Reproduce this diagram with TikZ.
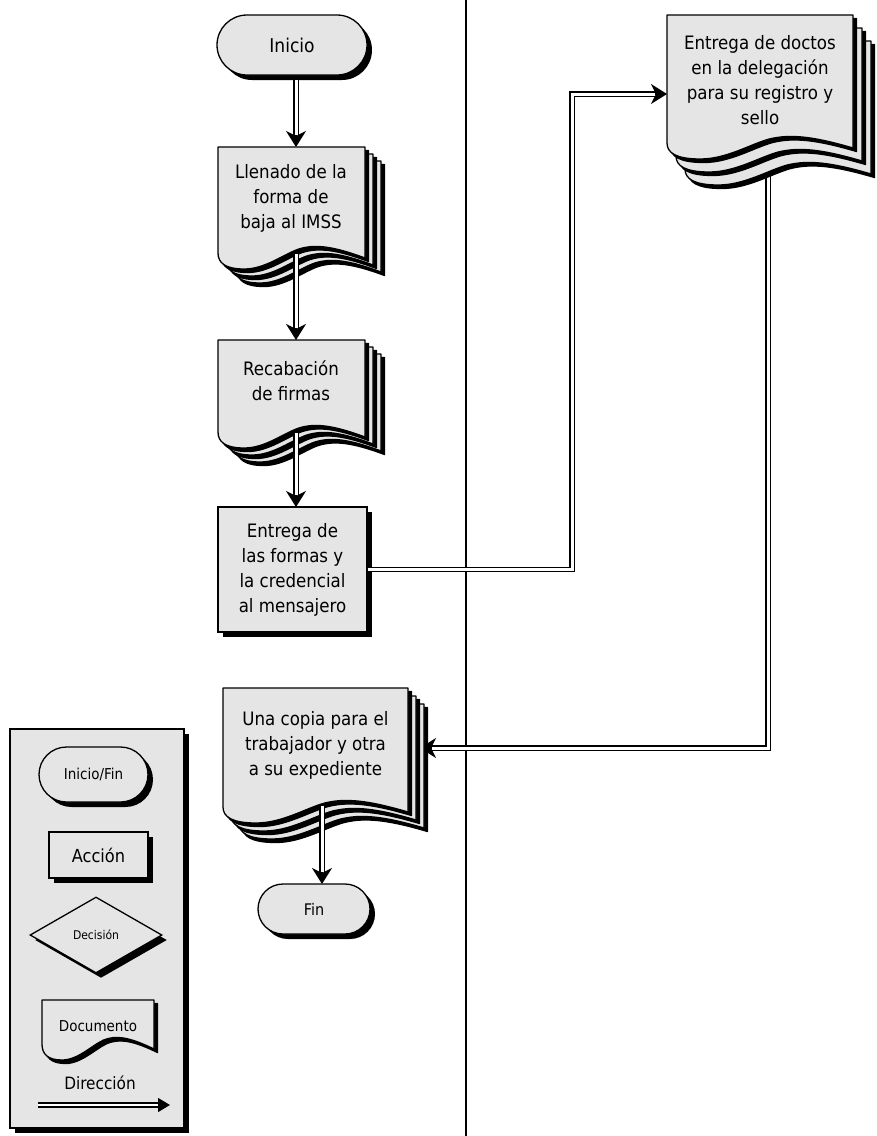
\documentclass[tikz,border=0pt]{standalone}
\usepackage{fontspec}
\setmainfont{DejaVu Sans Condensed}
\usetikzlibrary{arrows.meta,shapes.misc,shapes.geometric,shadows,calc}
\definecolor{docfill}{gray}{0.9}

% one sheet of a document shape: x, y(top), width, b(bottom reference), fill
\newcommand\sheet[5]{%
  \filldraw[sheetline, fill=#5] (#1,#2) -- ({#1+#3},#2) -- ({#1+#3},{#4-6})
    .. controls ({#1+0.78*#3},{#4-18}) and ({#1+0.66*#3},{#4-20}) .. ({#1+0.55*#3},{#4-15})
    .. controls ({#1+0.45*#3},{#4-10}) and ({#1+0.32*#3},{#4+5}) .. ({#1+0.18*#3},{#4+5})
    .. controls ({#1+0.05*#3},{#4+5}) and (#1,{#4-1}) .. (#1,{#4-11}) -- cycle;}
\newcommand\shsheet[5]{\sheet{#1+3.5}{#2+3.5}{#3}{#4+3.5}{black}\sheet{#1}{#2}{#3}{#4}{#5}}
\newcommand\multidoc[6]{%
  \shsheet{#1+2*#5}{#2+2*#6}{#3}{#4+2*#6}{docfill}%
  \shsheet{#1+#5}{#2+#6}{#3}{#4+#6}{docfill}%
  \shsheet{#1}{#2}{#3}{#4}{docfill}}

\begin{document}
\begin{tikzpicture}[x=1pt,y=-1pt,
  sheetline/.style={draw=black, line width=1.3pt, line join=round},
  shad/.style={drop shadow={shadow xshift=5pt, shadow yshift=-5pt, opacity=1, fill=black}},
  term/.style={rounded rectangle, draw, line width=1.3pt, fill=docfill, shad, inner sep=0pt},
  actbox/.style={rectangle, draw, line width=1.3pt, fill=docfill, shad, align=center, inner sep=0pt,
     font=\fontsize{18.5}{25}\selectfont},
  txt/.style={align=center, inner sep=0pt, font=\fontsize{18.5}{25}\selectfont},
  dbl/.style={double, double distance=3pt, line width=1.3pt, shorten >=6pt},
  tipend/.style={line width=1.4pt, -{Stealth[length=16pt,width=20pt,inset=5pt]}},
  legdbl/.style={double, double distance=2.5pt, line width=1.8pt, shorten >=6pt},
  legtip/.style={line width=1.2pt, -{Triangle[length=12pt,width=14pt]}}
]
\useasboundingbox (0,0) rectangle (877,1136);

% divider
\coordinate (dtop) at (466,0);
\coordinate (dbot) at (466,1136);
\draw[line width=1.2pt] (dtop) -- (dbot);

% connector drawn beneath documents
\coordinate (d-out) at (768,150);
\coordinate (k2) at (768,748);
\coordinate (u-in) at (420,748);
\draw[dbl] (d-out) -- (k2) -- (u-in);
\draw[tipend] ($(u-in)+(12,0)$) -- (u-in);

% Inicio
\node[term, minimum width=150, minimum height=60, font=\fontsize{19}{22}\selectfont] (inicio) at (292,45) {Inicio};

% Llenado
\multidoc{218}{147}{147}{264}{8}{7}
\node[txt] (llenado) at (291,198) {Llenado de la\\forma de\\baja al IMSS};

% Recabacion
\multidoc{218}{340}{147}{443}{8}{7}
\node[txt] (recab) at (291,381) {Recabación\\de firmas};

% Entrega
\node[actbox, minimum width=149, minimum height=125] (entrega) at (292.5,569.5)
  {Entrega de\\las formas y\\la credencial\\al mensajero};

% Entrega de doctos
\multidoc{667}{15}{186}{154}{9}{13}
\node[txt] (doctos) at (760,80) {Entrega de doctos\\en la delegación\\para su registro y\\sello};

% Una copia
\multidoc{223}{688}{185}{818}{8}{8}
\node[txt] (copia) at (315.5,745) {Una copia para el\\trabajador y otra\\a su expediente};

% Fin
\node[term, minimum width=112, minimum height=50, font=\fontsize{16}{19}\selectfont] (fin) at (314,909) {Fin};

% vertical connectors
\coordinate (i-out) at (296,80);
\coordinate (l-in) at (296,147);
\coordinate (l-out) at (296,254);
\coordinate (r-in) at (296,340);
\coordinate (r-out) at (296,433);
\coordinate (e-in) at (296,507);
\coordinate (c-out) at (322,806);
\coordinate (f-in) at (322,884);
\foreach \a/\b in {i-out/l-in, l-out/r-in, r-out/e-in, c-out/f-in}{
  \draw[dbl] (\a) -- (\b);
  \draw[tipend] ($(\b)+(0,-12)$) -- (\b);
}

% Entrega -> doctos
\coordinate (k1) at (572,569.5);
\coordinate (d-in) at (667,94);
\draw[dbl] (entrega.east) -- (k1) |- (d-in);
\draw[tipend] ($(d-in)+(-12,0)$) -- (d-in);

% Legend
\node[rectangle, draw, line width=1.3pt, fill=docfill, shad, minimum width=174, minimum height=399] (legend) at (97,928.5) {};
\node[term, minimum width=109, minimum height=55, font=\fontsize{15}{18}\selectfont] (lterm) at (93.5,774.5) {Inicio/Fin};
\node[actbox, minimum width=99, minimum height=46, font=\fontsize{18}{20}\selectfont] (lact) at (98.5,855) {Acción};
\node[diamond, draw, line width=1.3pt, fill=docfill, shad, minimum width=132, minimum height=76, inner sep=0pt, font=\fontsize{12}{14}\selectfont] (ldec) at (96,935) {Decisión};
\shsheet{42}{1000}{112}{1055}{docfill}
\node[txt, font=\fontsize{15}{18}\selectfont] (ldoc) at (98,1026) {Documento};
\node[txt, font=\fontsize{17}{20}\selectfont] (ldir) at (100,1083) {Dirección};
\coordinate (a1) at (38,1105);
\coordinate (a2) at (170,1105);
\draw[legdbl] (a1) -- (a2);
\draw[legtip] ($(a2)+(-10,0)$) -- (a2);
\end{tikzpicture}
\end{document}
